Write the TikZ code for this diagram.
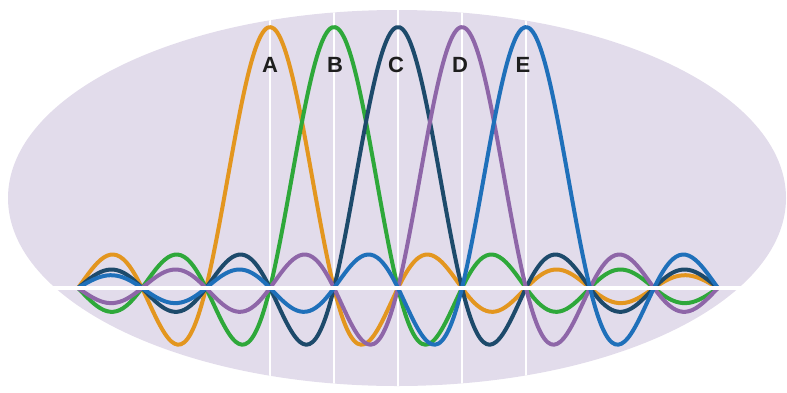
\documentclass[tikz,border=0pt]{standalone}
\usepackage{fontspec}
\setmainfont{Liberation Sans}
\definecolor{bgfill}{HTML}{E2DCEB}
\definecolor{cA}{HTML}{E3961F}
\definecolor{cB}{HTML}{2EA83A}
\definecolor{cC}{HTML}{1D4A6B}
\definecolor{cD}{HTML}{8E66A8}
\definecolor{cE}{HTML}{1F70BA}
\definecolor{lbl}{HTML}{1E1E1E}
\tikzset{
  wave/.style={line width=4pt, line join=round, line cap=round},
  grid line/.style={white, line width=1.5pt},
  base line/.style={white, line width=3.4pt},
  letter/.style={font=\bfseries\fontsize{22}{22}\selectfont, text=lbl, inner sep=0pt}
}
\begin{document}
\begin{tikzpicture}[x=1pt,y=-1pt]
\useasboundingbox (0,0) rectangle (787,392);
\fill[bgfill] (397,198) ellipse [x radius=389, y radius=188];
\begin{scope}
  \clip (397,198) ellipse [x radius=389, y radius=188];
  \foreach \c in {270,334,398,462,526}
    \draw[grid line] (\c,0) -- (\c,392);
\end{scope}
% sinc curves: zeros every 64pt from x=78 to x=718
\foreach \k/\col in {0/cA,1/cB,2/cC,3/cD,4/cE}{
  \pgfmathsetmacro{\lo}{-(3+\k)}
  \pgfmathsetmacro{\hi}{7-\k}
  \draw[wave, \col] plot[domain=\lo:\hi, samples=200, smooth]
    ({78+64*(\x+3+\k)}, {288 - 261*sin(180*\x)/(3.14159*\x)});
}
\draw[base line] (40,288) -- (760,288);
\node[letter] (la) at (270,65) {A};
\node[letter] (lb) at (335,65) {B};
\node[letter] (lc) at (396,65) {C};
\node[letter] (ld) at (460,65) {D};
\node[letter] (le) at (523,65) {E};
\end{tikzpicture}
\end{document}
